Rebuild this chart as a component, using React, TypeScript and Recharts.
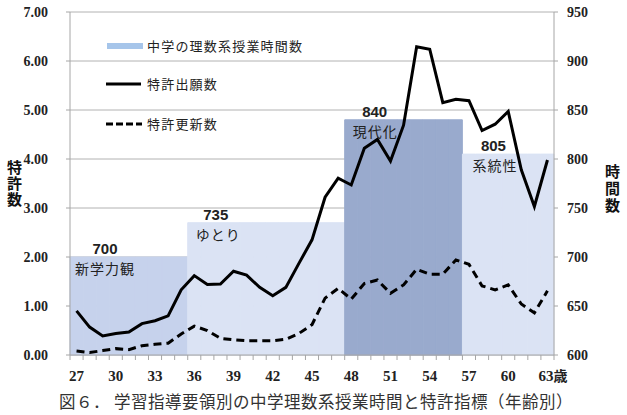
import React from "react";
import { ComposedChart, Bar, Line, XAxis, YAxis, CartesianGrid, Cell } from "recharts";

const ages = [27, 28, 29, 30, 31, 32, 33, 34, 35, 36, 37, 38, 39, 40, 41, 42, 43, 44, 45, 46, 47, 48, 49, 50, 51, 52, 53, 54, 55, 56, 57, 58, 59, 60, 61, 62, 63];
const applications = [0.90, 0.57, 0.39, 0.44, 0.47, 0.64, 0.70, 0.80, 1.33, 1.62, 1.44, 1.45, 1.71, 1.63, 1.38, 1.21, 1.38, 1.87, 2.35, 3.22, 3.61, 3.47, 4.22, 4.40, 3.96, 4.69, 6.29, 6.24, 5.15, 5.22, 5.19, 4.58, 4.71, 4.97, 3.78, 3.03, 3.98];
const renewals = [0.08, 0.05, 0.09, 0.13, 0.11, 0.19, 0.22, 0.24, 0.43, 0.59, 0.50, 0.34, 0.31, 0.29, 0.29, 0.29, 0.32, 0.44, 0.62, 1.16, 1.36, 1.14, 1.46, 1.53, 1.26, 1.43, 1.75, 1.65, 1.65, 1.94, 1.85, 1.41, 1.33, 1.43, 1.04, 0.86, 1.31];

const periodStart = [27, 36, 48, 57];
const periodHours = [700, 735, 840, 805];
const periodNames = ["新学力観", "ゆとり", "現代化", "系統性"];
const periodColors = ["#c6d2ec", "#dbe3f4", "#99aacd", "#dbe3f4"];

const xTickLabels: Record<number, string> = { 27: "27", 30: "30", 33: "33", 36: "36", 39: "39", 42: "42", 45: "45", 48: "48", 51: "51", 54: "54", 57: "57", 60: "60", 63: "63歳" };
const leftTicks = [0, 1, 2, 3, 4, 5, 6, 7];
const rightTicks = [600, 650, 700, 750, 800, 850, 900, 950];

const seriesNames = { hours: "中学の理数系授業時間数", apps: "特許出願数", renew: "特許更新数" };
const caption = "図６． 学習指導要領別の中学理数系授業時間と特許指標（年齢別）";
const leftTitle = "特許数";
const rightTitle = "時間数";

const periodIndexOf = (age: number) => {
  let p = 0;
  periodStart.forEach((s, i) => { if (age >= s) p = i; });
  return p;
};

const data = ages.map((age, i) => ({
  age,
  hours: periodHours[periodIndexOf(age)],
  apps: applications[i],
  renew: renewals[i],
}));

const serif = "Liberation Serif, DejaVu Serif, serif";
const cjk = "Noto Sans CJK JP, Noto Sans, sans-serif";

const XTick = (props: any) => {
  const { x, y, payload, index } = props;
  const half = payload && payload.offset ? payload.offset : 6.55;
  const age = ages[index];
  const label = xTickLabels[age];
  const isLast = index === ages.length - 1;
  return (
    <g>
      <line x1={x - half} x2={x - half} y1={y} y2={y + 5} stroke="#a6a6a6" />
      {isLast && <line x1={x + half} x2={x + half} y1={y} y2={y + 5} stroke="#a6a6a6" />}
      {label && !isLast && (
        <text x={x} y={y + 26} textAnchor="middle" fontFamily={serif} fontWeight="bold" fontSize={15} fill="#222">{label}</text>
      )}
      {label && isLast && (
        <text x={x - 9} y={y + 26} textAnchor="start" fontFamily={serif} fontWeight="bold" fontSize={15} fill="#222">
          {label.slice(0, 2)}
          <tspan fontFamily={cjk} fontSize={14}>{label.slice(2)}</tspan>
        </text>
      )}
    </g>
  );
};

const LeftTick = (props: any) => {
  const { x, y, payload } = props;
  return (
    <text x={x} y={y + 5} textAnchor="end" fontFamily={serif} fontWeight="bold" fontSize={14} fill="#222">
      {Number(payload.value).toFixed(2)}
    </text>
  );
};

const RightTick = (props: any) => {
  const { x, y, payload } = props;
  return (
    <text x={x} y={y + 5} textAnchor="start" fontFamily={serif} fontWeight="bold" fontSize={14} fill="#222">
      {payload.value}
    </text>
  );
};

const BarLabel = (props: any) => {
  const { x, y, index } = props;
  const age = ages[index];
  const p = periodStart.indexOf(age);
  if (p < 0) return null;
  const numOffsets = [35, 28, 30, 31];
  const txtOffsets = [5, 8, 8, 10];
  return (
    <g>
      <text x={x + numOffsets[p]} y={y - 3} textAnchor="middle" fontFamily="Liberation Sans, Arial, sans-serif" fontWeight="bold" fontSize={15} fill="#222">
        {periodHours[p]}
      </text>
      <text x={x + txtOffsets[p]} y={y + 17} textAnchor="start" fontFamily={cjk} fontSize={14} letterSpacing={1} fill="#222">
        {periodNames[p]}
      </text>
    </g>
  );
};

const verticalTitle = (left: number, top: number, spacing: number): React.CSSProperties => ({
  position: "absolute",
  left,
  top,
  writingMode: "vertical-rl",
  fontFamily: cjk,
  fontWeight: "bold",
  fontSize: 15,
  lineHeight: 1,
  letterSpacing: spacing,
  color: "#111",
});

export default function App() {
  return (
    <div style={{ position: "absolute", left: 0, top: 0, width: 627, height: 415, background: "#fff" }}>
      <ComposedChart width={627} height={415} data={data} margin={{ top: 12, right: 0, left: 0, bottom: 0 }} barCategoryGap={0}>
        <XAxis dataKey="age" xAxisId="x" interval={0} height={60} tickLine={false} tickSize={0} tickMargin={0} axisLine={{ stroke: "#a6a6a6" }} tick={<XTick />} />
        <YAxis yAxisId="left" orientation="left" width={70} domain={[0, 7]} ticks={leftTicks} axisLine={{ stroke: "#a6a6a6" }} tickLine={{ stroke: "#a6a6a6" }} tickSize={4} tickMargin={18} tick={<LeftTick />} />
        <YAxis yAxisId="right" orientation="right" width={73} domain={[600, 950]} ticks={rightTicks} axisLine={{ stroke: "#a6a6a6" }} tickLine={{ stroke: "#a6a6a6" }} tickSize={4} tickMargin={9} tick={<RightTick />} />
        <Bar xAxisId="x" yAxisId="right" dataKey="hours" name={seriesNames.hours} fill="#a6c5ea" isAnimationActive={false} label={<BarLabel />}>
          {data.map((d, i) => (
            <Cell key={i} fill={periodColors[periodIndexOf(d.age)]} stroke={periodColors[periodIndexOf(d.age)]} strokeWidth={1} />
          ))}
        </Bar>
        <CartesianGrid xAxisId="x" yAxisId="left" vertical={false} stroke="#9a9a9a" strokeOpacity={0.75} />
        <Line xAxisId="x" yAxisId="left" type="linear" dataKey="apps" name={seriesNames.apps} stroke="#000" strokeWidth={3} dot={false} isAnimationActive={false} />
        <Line xAxisId="x" yAxisId="left" type="linear" dataKey="renew" name={seriesNames.renew} stroke="#000" strokeWidth={3} strokeDasharray="8 5" dot={false} isAnimationActive={false} />
      </ComposedChart>

      <div style={{ position: "absolute", left: 0, top: 0, width: 627, height: 415, pointerEvents: "none" }}>
        <svg width={627} height={415} style={{ position: "absolute", left: 0, top: 0 }}>
          <rect x={107} y={43} width={36} height={6} fill="#a6c5ea" />
          <line x1={106} x2={141} y1={84} y2={84} stroke="#000" strokeWidth={3} />
          <line x1={106} x2={142} y1={124} y2={124} stroke="#000" strokeWidth={3} strokeDasharray="7 3" />
          <text x={147} y={51} fontFamily={cjk} fontSize={13} letterSpacing={1.2} fill="#222">{seriesNames.hours}</text>
          <text x={147} y={89} fontFamily={cjk} fontSize={13} letterSpacing={1.2} fill="#222">{seriesNames.apps}</text>
          <text x={147} y={129} fontFamily={cjk} fontSize={13} letterSpacing={1.2} fill="#222">{seriesNames.renew}</text>
          <text x={316} y={408} textAnchor="middle" fontFamily={cjk} fontSize={16.5} letterSpacing={0.5} fill="#333">{caption}</text>
        </svg>
        <div style={verticalTitle(7, 160, 1)}>{leftTitle}</div>
        <div style={verticalTitle(605, 164, 2)}>{rightTitle}</div>
      </div>
    </div>
  );
}
